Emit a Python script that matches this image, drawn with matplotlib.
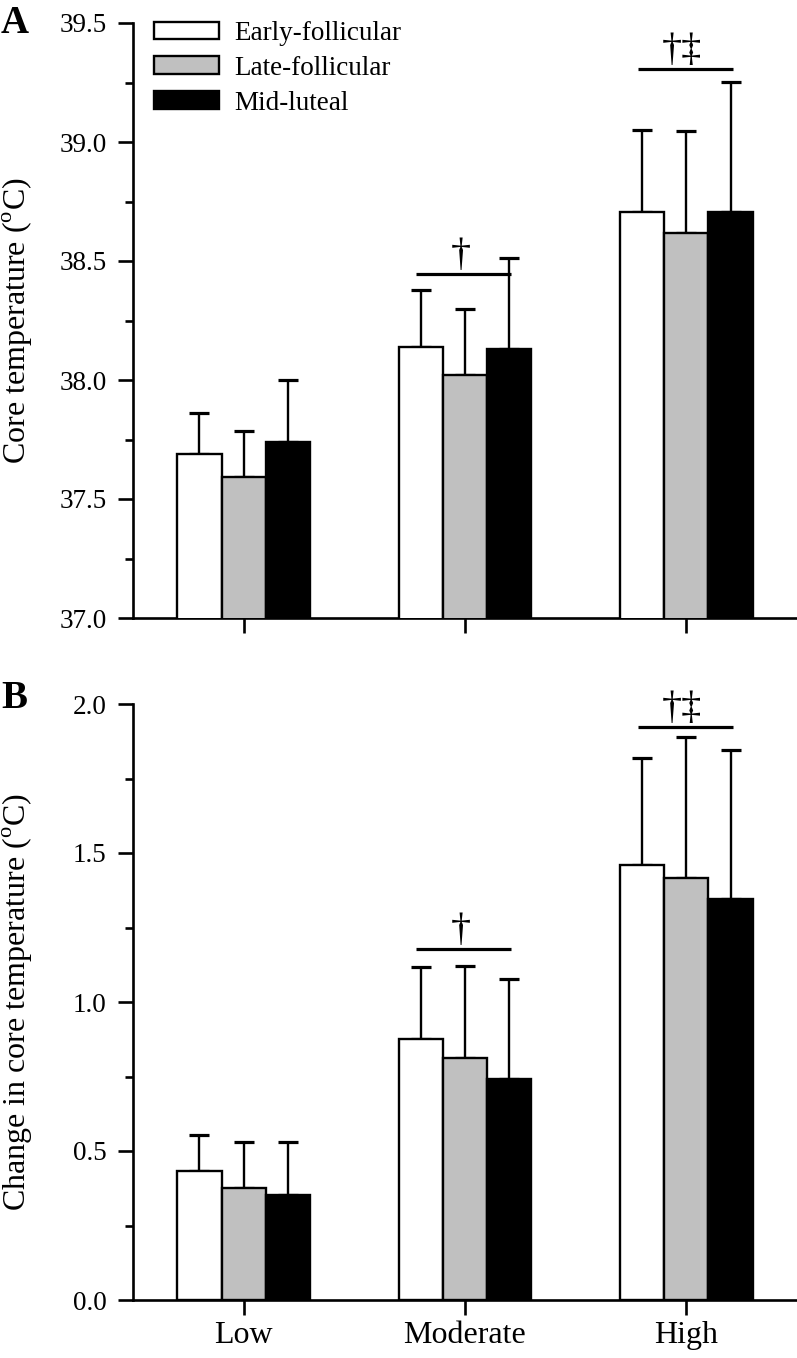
import matplotlib
matplotlib.use("Agg")
import matplotlib.pyplot as plt
import numpy as np
from matplotlib.ticker import MultipleLocator, FormatStrFormatter
from matplotlib.patches import Patch

plt.rcParams['font.family'] = ['Liberation Serif', 'DejaVu Serif']
plt.rcParams['mathtext.fontset'] = 'custom'
plt.rcParams['mathtext.rm'] = 'Liberation Serif'

categories = ["Low", "Moderate", "High"]
phases = ["Early-follicular", "Late-follicular", "Mid-luteal"]
colors = ["white", "#C0C0C0", "black"]

# Panel A: core temperature (deg C)
a_early = [37.688, 38.139, 38.707]
a_late = [37.591, 38.021, 38.617]
a_mid = [37.738, 38.129, 38.707]
a_early_sd = [0.172, 0.239, 0.343]
a_late_sd = [0.196, 0.277, 0.430]
a_mid_sd = [0.262, 0.382, 0.544]

# Panel B: change in core temperature (deg C)
b_early = [0.433, 0.876, 1.460]
b_late = [0.375, 0.811, 1.417]
b_mid = [0.352, 0.742, 1.346]
b_early_sd = [0.121, 0.240, 0.360]
b_late_sd = [0.155, 0.310, 0.473]
b_mid_sd = [0.178, 0.335, 0.500]

# significance markers: (category index, line level, symbol)
a_sig = [(1, 38.445, "\u2020"), (2, 39.307, "\u2020\u2021")]
b_sig = [(1, 1.179, "\u2020"), (2, 1.922, "\u2020\u2021")]

W, H = 797, 1358
fig = plt.figure(figsize=(W / 100, H / 100), dpi=100)

def fx(px):
    return px / W

def fy(py):
    return 1 - py / H

axA = fig.add_axes([fx(133), fy(618), fx(797) - fx(133), fy(23) - fy(618)])
axB = fig.add_axes([fx(133), fy(1300), fx(797) - fx(133), fy(704) - fy(1300)])

x = np.arange(len(categories))
bw = 0.2

def draw(ax, series, sds, ylim, sig):
    for i, (vals, sd, c) in enumerate(zip(series, sds, colors)):
        pos = x + (i - 1) * bw
        ax.bar(pos, vals, width=bw, bottom=0, color=c, edgecolor='black',
               linewidth=1.7, zorder=3, label=phases[i])
        ax.errorbar(pos, vals, yerr=[np.zeros(len(vals)), sd], fmt='none',
                    ecolor='black', elinewidth=1.7, capsize=7.5, capthick=2.3,
                    zorder=2)
    ax.set_xlim(-0.5, 2.5)
    ax.set_ylim(*ylim)
    for sp in ['top', 'right']:
        ax.spines[sp].set_visible(False)
    for sp in ['left', 'bottom']:
        ax.spines[sp].set_linewidth(1.9)
    ax.yaxis.set_major_locator(MultipleLocator(0.5))
    ax.yaxis.set_minor_locator(MultipleLocator(0.25))
    ax.yaxis.set_major_formatter(FormatStrFormatter('%.1f'))
    ax.tick_params(axis='y', which='major', length=11, width=1.9, labelsize=19.5, pad=8)
    ax.tick_params(axis='y', which='minor', length=6, width=1.9)
    ax.tick_params(axis='x', which='major', length=11, width=1.9, labelsize=23, pad=4)
    ax.set_xticks(x)
    for (ci, lvl, sym) in sig:
        ax.plot([ci - 0.22, ci + 0.21], [lvl, lvl], color='black', lw=2.3,
                solid_capstyle='butt', zorder=4, clip_on=False)
        ax.text(ci - 0.02, lvl, sym, ha='center', va='bottom', fontsize=29,
                zorder=4, clip_on=False)

draw(axA, [a_early, a_late, a_mid], [a_early_sd, a_late_sd, a_mid_sd], (37.0, 39.5), a_sig)
axA.set_xticklabels([])
axA.set_ylabel("Core temperature ($^{\\rm o}$C)", fontsize=23)
axA.yaxis.set_label_coords((35 - 133) / 664, 0.5)

draw(axB, [b_early, b_late, b_mid], [b_early_sd, b_late_sd, b_mid_sd], (0.0, 2.0), b_sig)
axB.set_xticklabels(categories)
axB.set_ylabel("Change in core temperature ($^{\\rm o}$C)", fontsize=23)
axB.yaxis.set_label_coords((35 - 133) / 664, 0.5)

handles = [Patch(facecolor=c, edgecolor='black', linewidth=1.7) for c in colors]
axA.legend(handles, phases, loc='upper left', bbox_to_anchor=(fx(154), fy(21)),
           bbox_transform=fig.transFigure, frameon=False, fontsize=19.5,
           handlelength=2.4, handleheight=0.64, handletextpad=0.55,
           labelspacing=0.36, borderpad=0, borderaxespad=0)

fig.text(fx(1), fy(5), "A", fontsize=28, fontweight='bold', ha='left', va='top')
fig.text(fx(1), fy(680), "B", fontsize=28, fontweight='bold', ha='left', va='top')

fig.savefig("out.png", dpi=100)
